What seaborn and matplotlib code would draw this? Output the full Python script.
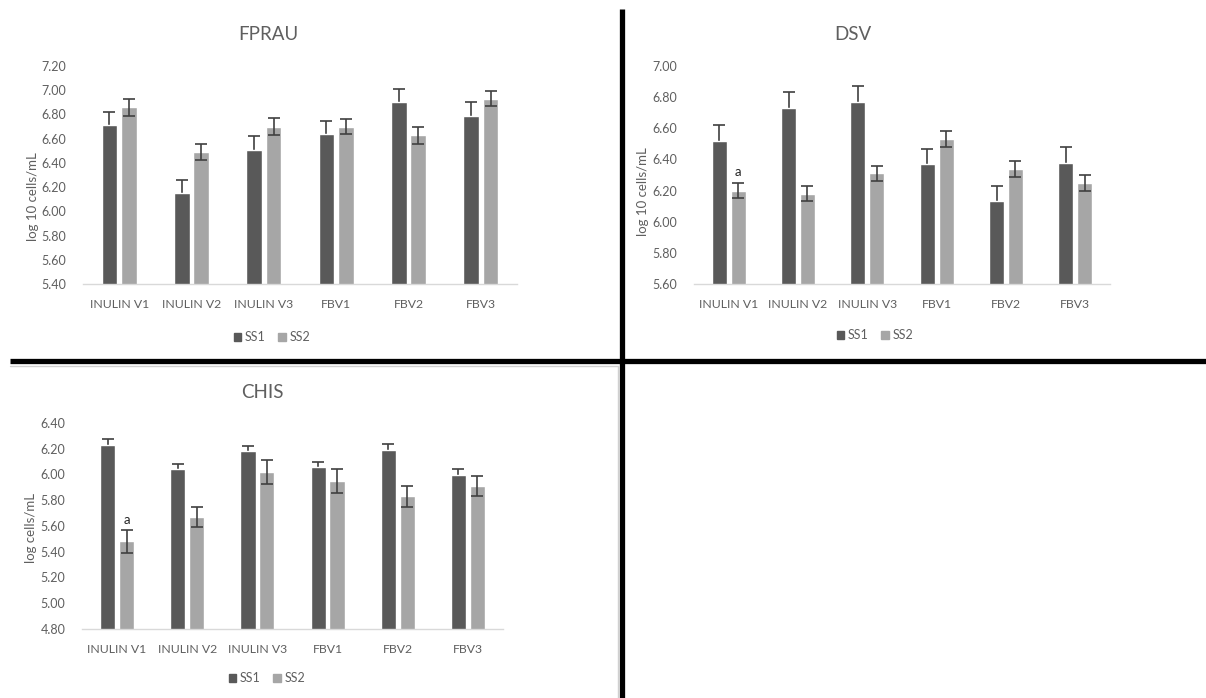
import numpy as np
import pandas as pd
import matplotlib
matplotlib.use("Agg")
import matplotlib.pyplot as plt
import seaborn as sns
from matplotlib.lines import Line2D
from matplotlib.patches import Rectangle

# data
categories = ["INULIN V1", "INULIN V2", "INULIN V3", "FBV1", "FBV2", "FBV3"]
series = ["SS1", "SS2"]

fprau_ss1 = [6.71, 6.15, 6.51, 6.64, 6.90, 6.79]
fprau_ss2 = [6.86, 6.49, 6.70, 6.70, 6.63, 6.93]
fprau_err1 = [0.11, 0.11, 0.11, 0.11, 0.11, 0.11]
fprau_err2 = [0.07, 0.07, 0.07, 0.06, 0.07, 0.06]

dsv_ss1 = [6.52, 6.73, 6.77, 6.37, 6.13, 6.38]
dsv_ss2 = [6.20, 6.18, 6.31, 6.53, 6.34, 6.25]
dsv_err1 = [0.10, 0.10, 0.10, 0.10, 0.10, 0.10]
dsv_err2 = [0.05, 0.05, 0.05, 0.05, 0.05, 0.05]

chis_ss1 = [6.23, 6.04, 6.18, 6.06, 6.19, 6.00]
chis_ss2 = [5.48, 5.67, 6.02, 5.95, 5.83, 5.91]
chis_err1 = [0.045, 0.045, 0.045, 0.04, 0.045, 0.045]
chis_err2 = [0.09, 0.08, 0.09, 0.09, 0.08, 0.08]

W, H = 1206, 698
DARK = "#595959"
LIGHT = "#a6a6a6"
TXT = "#5f5f5f"

sns.set_style("white")
plt.rcParams["font.family"] = ["Lato", "DejaVu Sans"]

fig = plt.figure(figsize=(W / 100, H / 100), dpi=100)


def px_axes(left, top, right, bottom):
    return fig.add_axes([left / W, 1 - bottom / H, (right - left) / W, (bottom - top) / H])


def draw_panel(ax, ss1, ss2, err1, err2, ylim, title, title_xy, ylabel, ylabel_xy, legend_xy, mark=None):
    df = pd.DataFrame({
        "cat": categories * 2,
        "series": [series[0]] * 6 + [series[1]] * 6,
        "val": list(ss1) + list(ss2),
    })
    sns.barplot(data=df, x="cat", y="val", hue="series", order=categories,
                hue_order=series, palette=[DARK, LIGHT], width=0.54, gap=0.2,
                errorbar=None, ax=ax, legend=False)
    # error bars at bar centres; dark series sits behind its bars so only the top half shows
    for k, (cont, vals, errs) in enumerate(zip(ax.containers, [ss1, ss2], [err1, err2])):
        xs = [p.get_x() + p.get_width() / 2 for p in cont.patches]
        ax.errorbar(xs, vals, yerr=errs, fmt="none", ecolor="#404040",
                    elinewidth=1.2, capsize=4, capthick=1.2, zorder=0.5 if k == 0 else 3)
        if mark is not None and k == 1:
            i, txt = mark
            ax.text(xs[i], vals[i] + errs[i] + 0.03, txt, ha="center", va="bottom",
                    fontsize=9.5, color="#262626")

    ax.set_ylim(*ylim)
    ax.set_yticks(np.round(np.arange(ylim[0], ylim[1] + 0.001, 0.2), 2))
    ax.yaxis.set_major_formatter(matplotlib.ticker.FormatStrFormatter("%.2f"))
    ax.set_xlim(-0.5, 5.5)
    ax.set_xlabel("")
    ax.set_ylabel("")
    for s in ["top", "right", "left"]:
        ax.spines[s].set_visible(False)
    ax.spines["bottom"].set_color("#d9d9d9")
    ax.spines["bottom"].set_linewidth(1.0)
    ax.tick_params(axis="both", length=0, labelcolor=TXT)
    ax.tick_params(axis="y", pad=12, labelsize=9)
    ax.tick_params(axis="x", pad=11, labelsize=8.8)

    fig.text(title_xy[0] / W, 1 - title_xy[1] / H, title, ha="center", va="center",
             fontsize=13.5, color=TXT)
    fig.text(ylabel_xy[0] / W, 1 - ylabel_xy[1] / H, ylabel, ha="center", va="center",
             rotation=90, fontsize=9.5, color=TXT)
    handles = [Rectangle((0, 0), 1, 1, color=DARK), Rectangle((0, 0), 1, 1, color=LIGHT)]
    fig.legend(handles, series, loc="center", bbox_to_anchor=(legend_xy[0] / W, 1 - legend_xy[1] / H),
               ncol=2, frameon=False, fontsize=9, labelcolor=TXT, handlelength=0.6,
               handleheight=0.6, handletextpad=0.3, columnspacing=1.0)


ax1 = px_axes(83, 66, 517, 284)
draw_panel(ax1, fprau_ss1, fprau_ss2, fprau_err1, fprau_err2, (5.4, 7.2), "FPRAU", (268, 34),
           "log 10 cells/mL", (33, 197), (272, 337))

ax2 = px_axes(694, 66, 1110, 284)
draw_panel(ax2, dsv_ss1, dsv_ss2, dsv_err1, dsv_err2, (5.6, 7.0), "DSV", (853, 34),
           "log 10 cells/mL", (643, 192), (875, 335), mark=(0, "a"))

ax3 = px_axes(82, 423, 503, 629)
draw_panel(ax3, chis_ss1, chis_ss2, chis_err1, chis_err2, (4.8, 6.4), "CHIS", (262, 392),
           "log cells/mL", (31, 528), (267, 678), mark=(0, "a"))

# thin chart-area border of the lower left panel
fig.add_artist(Line2D([10 / W, 618 / W], [1 - 366 / H, 1 - 366 / H], transform=fig.transFigure,
                      color="#d0d0d0", lw=1))
fig.add_artist(Line2D([618 / W, 618 / W], [1 - 366 / H, 0], transform=fig.transFigure,
                      color="#d0d0d0", lw=1))

# thick black dividers
fig.add_artist(Line2D([622 / W, 622 / W], [1 - 9 / H, 0], transform=fig.transFigure,
                      color="black", lw=3.8, solid_capstyle="butt"))
fig.add_artist(Line2D([10 / W, 1], [1 - 361 / H, 1 - 361 / H], transform=fig.transFigure,
                      color="black", lw=3.8, solid_capstyle="butt"))

fig.savefig("out.png", dpi=100)
